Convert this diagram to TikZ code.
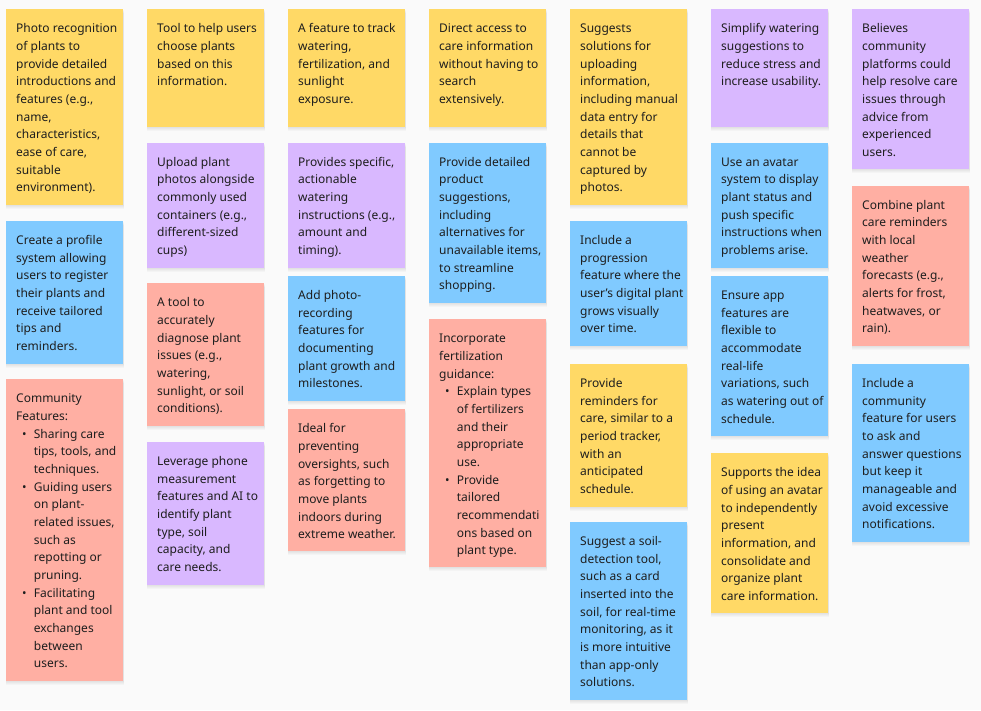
\documentclass[tikz,border=0pt]{standalone}
\usepackage{fontspec}
\setmainfont{Noto Sans}
\definecolor{bgc}{HTML}{FAFAFA}
\definecolor{yel}{HTML}{FFD966}
\definecolor{blu}{HTML}{80CAFF}
\definecolor{pur}{HTML}{D9B8FF}
\definecolor{sal}{HTML}{FFAFA3}
\definecolor{ink}{HTML}{1E1E1E}
\newcommand\bul{\makebox[17.7pt][l]{\hspace{6pt}\textbullet}}
\newcommand\hang{\hspace*{17.7pt}}
\newcommand\sticky[6]{%
  \foreach \s in {1,2,3,4}{\fill[black,opacity=0.025] (#3-0.5,-#4-\s) rectangle (#3+117.5,-#5-\s);}
  \fill[#2] (#3,-#4) rectangle (#3+117,-#5);
  \node[notetext] (#1) at (#3+10,-#4-23.4) {\parbox[t]{106pt}{\raggedright #6}};
}
\begin{document}
\begin{tikzpicture}[x=1pt,y=1pt,
  notetext/.style={anchor=base west,inner sep=0pt,text=ink,font=\fontsize{12}{17.67}\selectfont}]
\fill[bgc] (0,0) rectangle (981,-710);
\useasboundingbox (0,0) rectangle (981,-710);
% column 1
\sticky{a1}{yel}{6}{9.3}{205}{Photo recognition\\of plants to\\provide detailed\\introductions and\\features (e.g.,\\name,\\characteristics,\\ease of care,\\suitable\\environment).}
\sticky{a2}{blu}{6}{221}{364}{Create a profile\\system allowing\\users to register\\their plants and\\receive tailored\\tips and\\reminders.}
\sticky{a3}{sal}{6}{379.3}{680.7}{Community\\Features:\\\bul Sharing care\\\hang tips, tools, and\\\hang techniques.\\\bul Guiding users\\\hang on plant-\\\hang related issues,\\\hang such as\\\hang repotting or\\\hang pruning.\\\bul Facilitating\\\hang plant and tool\\\hang exchanges\\\hang between\\\hang users.}
% column 2
\sticky{b1}{yel}{147}{9.3}{127}{Tool to help users\\choose plants\\based on this\\information.}
\sticky{b2}{pur}{147}{142.7}{267.7}{Upload plant\\photos alongside\\commonly used\\containers (e.g.,\\different-sized\\cups)}
\sticky{b3}{sal}{147}{283.3}{426}{A tool to\\accurately\\diagnose plant\\issues (e.g.,\\watering,\\sunlight, or soil\\conditions).}
\sticky{b4}{pur}{147}{442}{585}{Leverage phone\\measurement\\features and AI to\\identify plant\\type, soil\\capacity, and\\care needs.}
% column 3
\sticky{c1}{yel}{288}{9.3}{127}{A feature to track\\watering,\\fertilization, and\\sunlight\\exposure.}
\sticky{c2}{pur}{288}{142.7}{267.7}{Provides specific,\\actionable\\watering\\instructions (e.g.,\\amount and\\timing).}
\sticky{c3}{blu}{288}{276}{400.7}{Add photo-\\recording\\features for\\documenting\\plant growth and\\milestones.}
\sticky{c4}{sal}{288}{409.3}{551.3}{Ideal for\\preventing\\oversights, such\\as forgetting to\\move plants\\indoors during\\extreme weather.}
% column 4
\sticky{d1}{yel}{429}{9.3}{127}{Direct access to\\care information\\without having to\\search\\extensively.}
\sticky{d2}{blu}{429}{142.7}{302.7}{Provide detailed\\product\\suggestions,\\including\\alternatives for\\unavailable items,\\to streamline\\shopping.}
\sticky{d3}{sal}{429}{319.3}{567}{Incorporate\\fertilization\\guidance:\\\bul Explain types\\\hang of fertilizers\\\hang and their\\\hang appropriate\\\hang use.\\\bul Provide\\\hang tailored\\\hang recommendati\\\hang ons based on\\\hang plant type.}
% column 5
\sticky{e1}{yel}{570}{9.3}{205}{Suggests\\solutions for\\uploading\\information,\\including manual\\data entry for\\details that\\cannot be\\captured by\\photos.}
\sticky{e2}{blu}{570}{221}{345.7}{Include a\\progression\\feature where the\\user’s digital plant\\grows visually\\over time.}
\sticky{e3}{yel}{570}{364}{506.7}{Provide\\reminders for\\care, similar to a\\period tracker,\\with an\\anticipated\\schedule.}
\sticky{e4}{blu}{570}{522}{700}{Suggest a soil-\\detection tool,\\such as a card\\inserted into the\\soil, for real-time\\monitoring, as it\\is more intuitive\\than app-only\\solutions.}
% column 6
\sticky{f1}{pur}{711}{9.3}{127}{Simplify watering\\suggestions to\\reduce stress and\\increase usability.}
\sticky{f2}{blu}{711}{142.7}{267.7}{Use an avatar\\system to display\\plant status and\\push specific\\instructions when\\problems arise.}
\sticky{f3}{blu}{711}{276}{435.7}{Ensure app\\features are\\flexible to\\accommodate\\real-life\\variations, such\\as watering out of\\schedule.}
\sticky{f4}{yel}{711}{453.3}{613}{Supports the idea\\of using an avatar\\to independently\\present\\information, and\\consolidate and\\organize plant\\care information.}
% column 7
\sticky{g1}{pur}{852}{9.3}{169.3}{Believes\\community\\platforms could\\help resolve care\\issues through\\advice from\\experienced\\users.}
\sticky{g2}{sal}{852}{185.7}{345.7}{Combine plant\\care reminders\\with local\\weather\\forecasts (e.g.,\\alerts for frost,\\heatwaves, or\\rain).}
\sticky{g3}{blu}{852}{364}{541.7}{Include a\\community\\feature for users\\to ask and\\answer questions\\but keep it\\manageable and\\avoid excessive\\notifications.}
\end{tikzpicture}
\end{document}
